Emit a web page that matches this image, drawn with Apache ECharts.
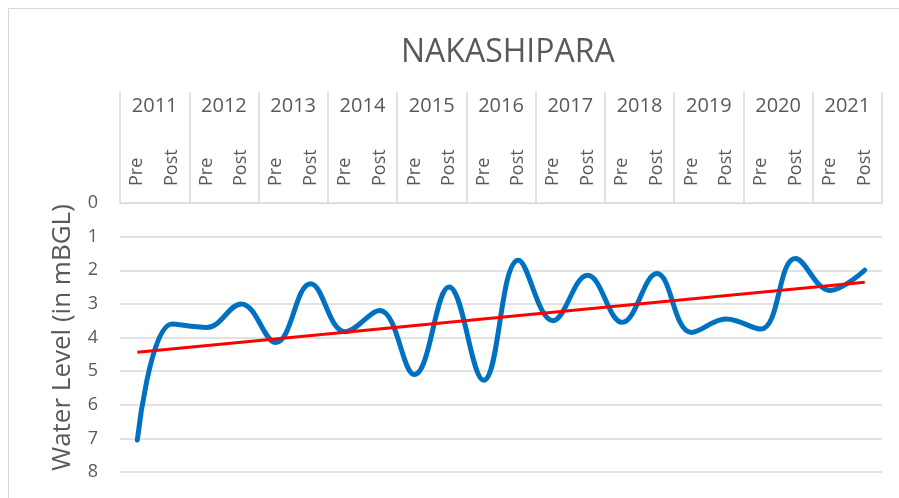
<!DOCTYPE html>
<html>
<head>
<meta charset="utf-8">
<script src="https://cdn.jsdelivr.net/npm/echarts@6/dist/echarts.min.js"></script>
<style>
  html, body { margin: 0; padding: 0; background: #fff; }
  #chart { width: 899px; height: 498px; }
</style>
</head>
<body>
<div id="chart"></div>
<script>
const years = ['2011', '2012', '2013', '2014', '2015', '2016', '2017', '2018', '2019', '2020', '2021']
const seasons = []
years.forEach(() => seasons.push('Pre', 'Post'))
// water level (mBGL), pre / post monsoon per year
const waterLevel = [7.05, 3.6, 3.7, 3.0, 4.15, 2.4, 3.83, 3.2, 5.1, 2.5, 5.27,
  1.7, 3.5, 2.15, 3.55, 2.1, 3.85, 3.45, 3.75, 1.65, 2.6, 2.0]
// linear trend end points
const trendStart = 4.44
const trendEnd = 2.36

const textColor = '#595959'
const lineGray = '#d9d9d9'
const font = 'Open Sans'

let chart = echarts.init(document.getElementById('chart'))
chart.setOption({
  animation: false,
  textStyle: { fontFamily: font },
  title: {
    text: 'NAKASHIPARA',
    left: 396,
    top: 32,
    textStyle: { fontSize: 32, fontWeight: 'normal', color: textColor, fontFamily: font },
  },
  graphic: [
    {
      type: 'rect',
      shape: { x: 8.5, y: 8.5, width: 900, height: 500 },
      style: { fill: 'none', stroke: lineGray, lineWidth: 1 },
      silent: true,
    },
  ],
  grid: {
    left: 120,
    right: 17,
    top: 203,
    bottom: 26,
  },
  xAxis: [
    {
      type: 'category',
      position: 'top',
      data: seasons,
      axisLine: { show: true, lineStyle: { color: lineGray, width: 1 } },
      axisTick: { show: false },
      axisLabel: { rotate: 90, fontSize: 18, color: textColor, margin: 17, interval: 0 },
      splitLine: { show: false },
    },
    {
      type: 'category',
      position: 'top',
      data: years,
      axisLine: { show: false },
      // year separators
      axisTick: { show: true, interval: 0, length: 111, lineStyle: { color: lineGray, width: 1.5 } },
      axisLabel: { fontSize: 20, color: textColor, margin: 87, interval: 0 },
    },
  ],
  yAxis: {
    type: 'value',
    inverse: true,
    min: 0,
    max: 8,
    interval: 1,
    name: 'Water Level (in mBGL)',
    nameLocation: 'middle',
    nameGap: 44,
    nameRotate: 90,
    nameTextStyle: { fontSize: 26, color: textColor },
    axisLine: { show: false },
    axisTick: { show: false },
    axisLabel: { fontSize: 18, color: textColor, margin: 22 },
    splitLine: { lineStyle: { color: lineGray, width: 1.5 } },
  },
  series: [
    {
      name: 'Water Level',
      type: 'line',
      xAxisIndex: 0,
      data: waterLevel,
      smooth: 0.4,
      showSymbol: false,
      lineStyle: { color: '#0070c0', width: 5, cap: 'round' },
    },
    {
      name: 'Trend',
      type: 'line',
      xAxisIndex: 0,
      data: [[0, trendStart], [waterLevel.length - 1, trendEnd]],
      showSymbol: false,
      lineStyle: { color: '#ff0000', width: 3 },
    },
  ],
})
</script>
</body>
</html>
